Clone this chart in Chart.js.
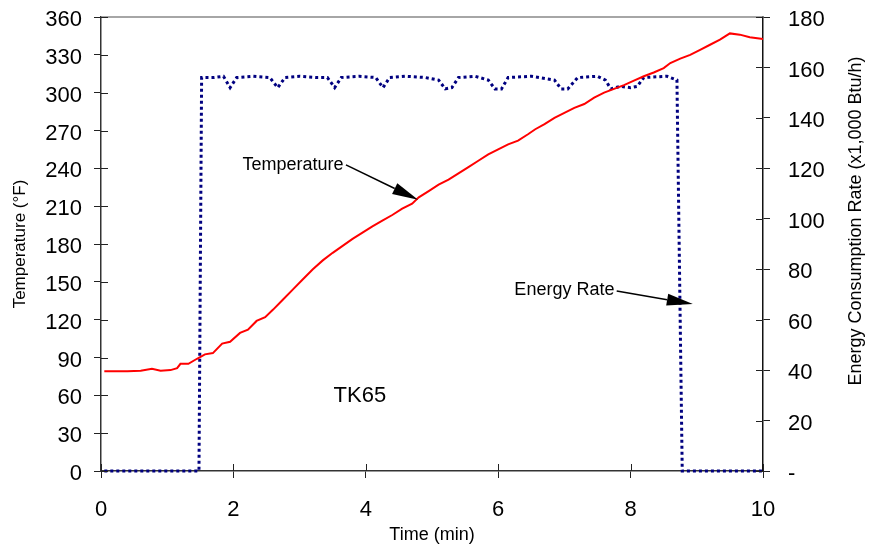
<!DOCTYPE html>
<html>
<head>
<meta charset="utf-8">
<script src="https://cdn.jsdelivr.net/npm/chart.js@4.4.0/dist/chart.umd.min.js"></script>
<style>
  html, body { margin: 0; padding: 0; background: #fff; }
  .wrap { width: 873px; height: 546px; }
</style>
</head>
<body>
<div class="wrap"><canvas id="tk65Chart"></canvas></div>
<script>
// temperature trace (min, °F)
const tempTime = [0.05, 0.2, 0.4, 0.6, 0.77, 0.9, 1.05, 1.15, 1.2, 1.32, 1.45, 1.57, 1.69, 1.83, 1.95,
  2.1, 2.22, 2.35, 2.48, 2.6, 2.75, 2.9, 3.05, 3.2, 3.35, 3.5, 3.65, 3.8, 3.95, 4.1, 4.25, 4.4,
  4.55, 4.7, 4.8, 4.95, 5.1, 5.25, 5.4, 5.55, 5.7, 5.85, 6.0, 6.15, 6.3, 6.45, 6.56, 6.7, 6.85,
  7.0, 7.15, 7.3, 7.45, 7.6, 7.75, 7.9, 8.05, 8.2, 8.35, 8.5, 8.6, 8.75, 8.9, 9.05, 9.2, 9.35,
  9.5, 9.65, 9.8, 10.0]
const tempValues = [79, 79, 79, 79.5, 81, 79.5, 80, 81.5, 85, 85, 89, 92.5, 93.5, 101, 102.5,
  109.5, 112, 119, 122, 128, 136, 144, 152, 160, 167, 173, 178.5, 184, 189, 194, 198.5, 203,
  208, 212, 217, 222, 227, 231, 236, 241, 246, 251, 255, 259, 262, 267, 271, 275, 280,
  284, 288, 291, 296, 300, 303, 306, 309.5, 313, 316, 319.5, 323.5, 327, 330, 334, 338, 342,
  347, 346, 344, 342.5]

// energy consumption rate (min, x1,000 Btu/h)
const rateTime = [0.05, 1.48, 1.52, 1.7, 1.85, 1.95, 2.05, 2.3, 2.55, 2.67, 2.78, 3.0, 3.25, 3.42,
  3.53, 3.63, 3.9, 4.15, 4.26, 4.36, 4.6, 4.9, 5.1, 5.2, 5.3, 5.4, 5.65, 5.85, 5.95, 6.05, 6.15,
  6.5, 6.85, 6.95, 7.05, 7.2, 7.5, 7.62, 7.7, 7.85, 8.0, 8.1, 8.2, 8.55, 8.7, 8.78, 10.0]
const rateValues = [0, 0, 156, 156, 156.5, 152, 156, 156.5, 156, 152, 156, 156.5, 156, 156,
  152, 156, 156.5, 156, 152, 156, 156.5, 156, 155, 151.5, 152, 156, 156.5, 155, 151.5, 151.5, 156,
  156.5, 155, 151.5, 151.5, 156, 156.5, 155, 151.5, 152.5, 152, 152.5, 156, 156.5, 155, 0, 0]

const xTicksStep = 2
const tempTicksStep = 30
const rateTicksStep = 20

// text notes, placed in (min, °F)
const notes = [
  { text: 'Temperature', at: [2.9, 242.7], from: [3.7, 242.7], to: [4.79, 215] },
  { text: 'Energy Rate', at: [7.0, 143.5], from: [7.79, 142.7], to: [8.94, 132.4] },
  { text: 'TK65', at: [3.91, 59.5], size: 22 }
]

const FONT = "'Liberation Sans', Arial, sans-serif"

const extras = {
  id: 'extras',
  afterDraw(chart) {
    const ctx = chart.ctx
    const { left, right, top, bottom } = chart.chartArea
    const sx = chart.scales.x, sy = chart.scales.y, sy2 = chart.scales.y2
    ctx.save()

    // top frame line
    ctx.strokeStyle = '#888'
    ctx.lineWidth = 1.5
    ctx.beginPath()
    ctx.moveTo(left, top)
    ctx.lineTo(right, top)
    ctx.stroke()

    // inner half of the crossing ticks
    ctx.strokeStyle = '#222'
    ctx.lineWidth = 1
    ctx.beginPath()
    sx.ticks.forEach((t) => {
      const px = Math.round(sx.getPixelForValue(t.value)) + 0.5
      ctx.moveTo(px, bottom); ctx.lineTo(px, bottom - 7)
    })
    sy.ticks.forEach((t) => {
      const py = Math.round(sy.getPixelForValue(t.value)) + 0.5
      ctx.moveTo(left, py); ctx.lineTo(left + 7, py)
    })
    sy2.ticks.forEach((t) => {
      const py = Math.round(sy2.getPixelForValue(t.value)) + 0.5
      ctx.moveTo(right, py); ctx.lineTo(right - 7, py)
    })
    ctx.stroke()

    // notes and arrows
    ctx.fillStyle = '#000'
    ctx.textAlign = 'center'
    ctx.textBaseline = 'middle'
    notes.forEach((n) => {
      ctx.font = (n.size || 18) + 'px ' + FONT
      ctx.fillText(n.text, sx.getPixelForValue(n.at[0]), sy.getPixelForValue(n.at[1]))
      if (!n.to) return
      const x0 = sx.getPixelForValue(n.from[0]), y0 = sy.getPixelForValue(n.from[1])
      const x1 = sx.getPixelForValue(n.to[0]), y1 = sy.getPixelForValue(n.to[1])
      const ang = Math.atan2(y1 - y0, x1 - x0)
      const len = 26, hw = 6
      const bx = x1 - len * Math.cos(ang), by = y1 - len * Math.sin(ang)
      ctx.strokeStyle = '#000'
      ctx.lineWidth = 1.5
      ctx.beginPath()
      ctx.moveTo(x0, y0)
      ctx.lineTo(bx, by)
      ctx.stroke()
      ctx.beginPath()
      ctx.moveTo(x1, y1)
      ctx.lineTo(bx + hw * Math.sin(ang), by - hw * Math.cos(ang))
      ctx.lineTo(bx - hw * Math.sin(ang), by + hw * Math.cos(ang))
      ctx.closePath()
      ctx.fill()
    })

    // right axis title reads bottom to top, like the left one
    ctx.font = '18px ' + FONT
    ctx.translate(856, 221)
    ctx.rotate(-Math.PI / 2)
    ctx.fillText('Energy Consumption Rate (x1,000 Btu/h)', 0, 0)
    ctx.restore()
  }
}

const tickFont = { family: FONT, size: 22 }

// fixed axis boxes so the plot area lands where the original sits
function fixVertical(width) {
  return (s) => {
    s.width = width
    s.paddingTop = 0
    s.paddingBottom = 0
  }
}

new Chart(document.getElementById('tk65Chart'), {
  type: 'line',
  data: {
    datasets: [
      {
        label: 'Temperature',
        data: tempTime.map((t, i) => ({ x: t, y: tempValues[i] })),
        yAxisID: 'y',
        borderColor: '#ff0000',
        borderWidth: 2,
        pointRadius: 0,
        tension: 0,
        clip: 4
      },
      {
        label: 'Energy Rate',
        data: rateTime.map((t, i) => ({ x: t, y: rateValues[i] })),
        yAxisID: 'y2',
        borderColor: '#000080',
        borderWidth: 3,
        borderDash: [3, 3],
        pointRadius: 0,
        tension: 0,
        clip: 4
      }
    ]
  },
  options: {
    responsive: true,
    maintainAspectRatio: false,
    animation: false,
    layout: { padding: { top: 17, left: 0, right: 0, bottom: 0 } },
    plugins: {
      legend: { display: false },
      tooltip: { enabled: false }
    },
    scales: {
      x: {
        type: 'linear',
        min: 0,
        max: 10,
        afterFit: (s) => { s.height = 75 },
        ticks: { stepSize: xTicksStep, font: tickFont, color: '#000', padding: 19, maxRotation: 0 },
        grid: { drawOnChartArea: false, tickLength: 7, color: '#222' },
        border: { color: '#333', width: 1.5 },
        title: { display: true, text: 'Time (min)', font: { family: FONT, size: 18 }, color: '#000', padding: { top: 0, bottom: 0 } }
      },
      y: {
        position: 'left',
        min: 0,
        max: 360,
        afterFit: fixVertical(101),
        ticks: { stepSize: tempTicksStep, font: tickFont, color: '#000', padding: 12, labelOffset: 3 },
        grid: { drawOnChartArea: false, tickLength: 7, color: '#222' },
        border: { color: '#333', width: 1.5 },
        title: { display: true, text: 'Temperature (°F)', font: { family: FONT, size: 17 }, color: '#000', padding: { top: 10, bottom: 0 } }
      },
      y2: {
        position: 'right',
        min: 0,
        max: 180,
        afterFit: fixVertical(110),
        ticks: {
          stepSize: rateTicksStep, font: tickFont, color: '#000', padding: 18, labelOffset: 3,
          callback: (v) => (v === 0 ? '-' : v)
        },
        grid: { drawOnChartArea: false, tickLength: 7, color: '#222' },
        border: { color: '#111', width: 1.5 }
      }
    }
  },
  plugins: [extras]
})
</script>
</body>
</html>
